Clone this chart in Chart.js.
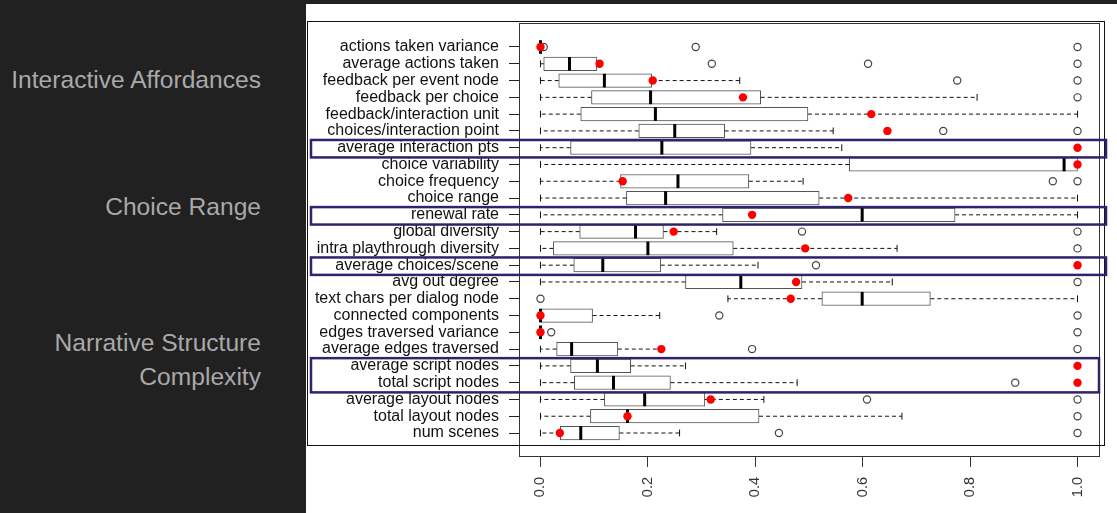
<!DOCTYPE html>
<html><head><meta charset="utf-8">
<script src="https://cdn.jsdelivr.net/npm/chart.js@4/dist/chart.umd.min.js"></script>
<style>
html,body{margin:0;padding:0;background:#212121;width:1117px;height:513px;overflow:hidden;font-family:"Liberation Sans",Arial,sans-serif;}
#panel{position:absolute;left:306px;top:4px;width:811px;height:509px;background:#fff;}
.side{position:absolute;left:0;width:261px;text-align:right;color:#a9a9a9;font-size:24.6px;line-height:34px;white-space:nowrap;}
canvas{position:absolute;left:0;top:0;}
</style></head>
<body>
<div id="panel"></div>
<div class="side" style="top:62.5px">Interactive Affordances</div>
<div class="side" style="top:189.5px">Choice Range</div>
<div class="side" style="top:325.5px">Narrative Structure<br>Complexity</div>
<canvas id="c" width="1117" height="513"></canvas>
<script>
const categories = ["actions taken variance","average actions taken","feedback per event node","feedback per choice","feedback/interaction unit","choices/interaction point","average interaction pts","choice variability","choice frequency","choice range","renewal rate","global diversity","intra playthrough diversity","average choices/scene","avg out degree","text chars per dialog node","connected components","edges traversed variance","average edges traversed","average script nodes","total script nodes","average layout nodes","total layout nodes","num scenes"];
const whiskerLow = [0,0,0,0,0,0,0,0,0,0,0,0,0,0,0,0.349,0,0,0,0,0,0,0,0];
const q1 =        [0,0.006,0.034,0.095,0.075,0.183,0.056,0.575,0.149,0.16,0.339,0.073,0.024,0.062,0.27,0.524,0,0,0.03,0.056,0.063,0.119,0.093,0.037];
const median =    [0,0.054,0.119,0.205,0.214,0.25,0.226,0.975,0.256,0.233,0.599,0.177,0.2,0.116,0.373,0.599,0,0,0.058,0.106,0.136,0.194,0.162,0.075];
const q3 =        [0,0.105,0.207,0.41,0.498,0.343,0.392,1.0,0.388,0.519,0.772,0.229,0.359,0.224,0.487,0.726,0.097,0,0.144,0.168,0.242,0.306,0.407,0.147];
const whiskerHigh=[0,0.105,0.371,0.813,1.0,0.545,0.561,1.0,0.489,1.0,1.0,0.328,0.664,0.405,0.655,1.0,0.222,0,0.225,0.27,0.478,0.416,0.673,0.259];
const reference = [0,0.11,0.209,0.377,0.616,0.646,1.0,1.0,0.153,0.573,0.394,0.248,0.493,1.0,0.476,0.466,0,0,0.225,1.0,1.0,0.317,0.162,0.036];
const outliers = [[0.006,0.289,1.0],[0.319,0.61,1.0],[0.776,1.0],[1.0],[],[0.75,1.0],[],[],[0.954,1.0],[],[],[0.487,1.0],[1.0],[0.513],[1.0],[0.0],[0.333,1.0],[0.02,1.0],[0.394,1.0],[],[0.884],[0.608,1.0],[1.0],[0.444,1.0]];
const xTicks = [0,0.2,0.4,0.6,0.8,1.0];
const highlightRows = [[7,7],[11,11],[14,14],[20,21]];

const FONT = '"Liberation Sans", Arial, sans-serif';
const BOX_H = 13.6;

const boxData = categories.map((c,i)=>({x:[q1[i],q3[i]], y:i+1}));
const outlierData = [];
outliers.forEach((arr,i)=>arr.forEach(v=>outlierData.push({x:v,y:i+1})));
const refData = reference.map((v,i)=>({x:v,y:i+1}));

const boxPlugin = {
  id:'boxparts',
  afterDatasetDraw(chart,args){
    if(args.index!==0) return;
    const {ctx, scales:{x,y}} = chart;
    const half = BOX_H/2, cap = BOX_H/4;
    ctx.save();
    categories.forEach((c,i)=>{
      const py = y.getPixelForValue(i+1);
      ctx.strokeStyle='#111'; ctx.lineWidth=1;
      ctx.setLineDash([4,3]);
      ctx.beginPath();
      ctx.moveTo(x.getPixelForValue(q1[i]),py); ctx.lineTo(x.getPixelForValue(whiskerLow[i]),py);
      ctx.moveTo(x.getPixelForValue(q3[i]),py); ctx.lineTo(x.getPixelForValue(whiskerHigh[i]),py);
      ctx.stroke();
      ctx.setLineDash([]);
      ctx.beginPath();
      [whiskerLow[i],whiskerHigh[i]].forEach(v=>{
        const px=x.getPixelForValue(v);
        ctx.moveTo(px,py-cap); ctx.lineTo(px,py+cap);
      });
      ctx.stroke();
      ctx.lineWidth=3; ctx.strokeStyle='#000';
      const pm=x.getPixelForValue(median[i]);
      ctx.beginPath(); ctx.moveTo(pm,py-half); ctx.lineTo(pm,py+half); ctx.stroke();
    });
    ctx.restore();
  },
  afterDraw(chart){
    const {ctx, chartArea:a, scales:{y}} = chart;
    ctx.save();
    ctx.strokeStyle='#333'; ctx.lineWidth=1;
    ctx.strokeRect(Math.round(a.left)+0.5, Math.round(a.top)+0.5, Math.round(a.right-a.left), Math.round(a.bottom-a.top));
    ctx.strokeStyle='#111';
    ctx.strokeRect(307.5,21.5,797,424);
    ctx.strokeStyle='#30236e'; ctx.lineWidth=2.5;
    highlightRows.forEach(([f,t],k)=>{
      const top=y.getPixelForValue(f-0.52)+1, bot=y.getPixelForValue(t+0.52)+1;
      const right = k===highlightRows.length-1 ? 1099 : 1106;
      ctx.strokeRect(311,top,right-311,bot-top);
    });
    ctx.restore();
  }
};

new Chart(document.getElementById('c').getContext('2d'),{
  type:'bar',
  data:{datasets:[
    {type:'bar', indexAxis:'y', data:boxData, backgroundColor:'#fff', borderColor:'#555', borderWidth:1, borderSkipped:false, barThickness:BOX_H, order:3},
    {type:'scatter', data:outlierData, pointStyle:'circle', pointRadius:3.6, pointBackgroundColor:'rgba(255,255,255,0)', pointBorderColor:'#444', pointBorderWidth:1.2, order:2},
    {type:'scatter', data:refData, pointStyle:'circle', pointRadius:4.2, pointBackgroundColor:'#f00', pointBorderColor:'#f00', pointBorderWidth:0, order:1}
  ]},
  options:{
    responsive:false, animation:false, events:[], devicePixelRatio:1,
    layout:{padding:{left:0,right:18,top:23,bottom:0}},
    plugins:{legend:{display:false}, tooltip:{enabled:false}},
    scales:{
      x:{type:'linear', min:-0.04, max:1.04, offset:false,
        afterBuildTicks:s=>{s.ticks=xTicks.map(v=>({value:v}));},
        afterFit:s=>{s.height=57;},
        ticks:{callback:v=>Number(v).toFixed(1), minRotation:90, maxRotation:90, padding:10, autoSkip:false, color:'#333', font:{family:FONT,size:14.5}},
        grid:{offset:false, drawOnChartArea:false, drawTicks:true, tickLength:11, color:'#333'},
        border:{display:false}},
      y:{type:'linear', reverse:true, min:-0.43, max:25.37, offset:false,
        afterBuildTicks:s=>{s.ticks=categories.map((_,i)=>({value:i+1}));},
        afterFit:s=>{s.width=519;},
        ticks:{callback:v=>categories[v-1], autoSkip:false, padding:10, color:'#111', font:{family:FONT,size:16}},
        grid:{offset:false, drawOnChartArea:false, drawTicks:true, tickLength:10, color:'#222'},
        border:{display:false}}
    }
  },
  plugins:[boxPlugin]
});
</script>
</body></html>
